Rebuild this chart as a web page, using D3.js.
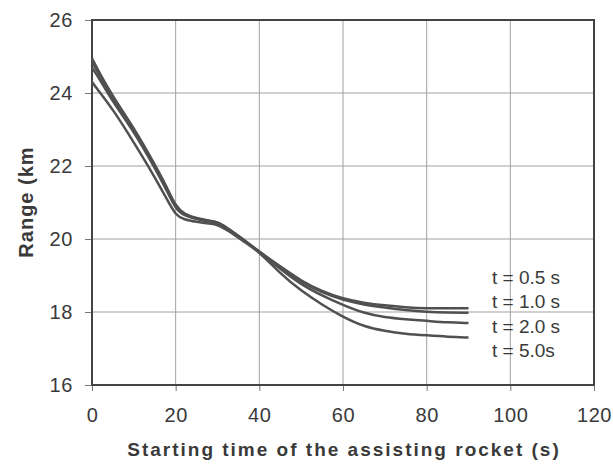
<!DOCTYPE html>
<html>
<head>
<meta charset="utf-8">
<script src="https://cdn.jsdelivr.net/npm/d3@7"></script>
<style>
  body { margin: 0; background: #fff; }
  text { font-family: Arial, "Liberation Sans", sans-serif; fill: #3a3a3a; }
</style>
</head>
<body>
<div id="chart"></div>
<script>
//chart data
var startTimes = [0, 2, 5, 10, 15, 18, 20, 22, 25, 28, 30, 33, 36, 40, 45, 50, 55, 60, 65, 70, 75, 80, 85, 90];
var range05 = [24.95, 24.5, 23.9, 23.05, 22.05, 21.4, 20.9, 20.68, 20.57, 20.5, 20.47, 20.25, 20.0, 19.65, 19.25, 18.85, 18.56, 18.36, 18.25, 18.18, 18.13, 18.1, 18.1, 18.1];
var range10 = [24.85, 24.45, 23.85, 23.0, 22.0, 21.35, 20.86, 20.66, 20.55, 20.47, 20.48, 20.25, 20.0, 19.65, 19.22, 18.82, 18.53, 18.33, 18.2, 18.12, 18.05, 18.0, 17.98, 17.98];
var range20 = [24.7, 24.35, 23.75, 22.95, 21.95, 21.3, 20.82, 20.64, 20.55, 20.5, 20.45, 20.22, 19.98, 19.65, 19.18, 18.75, 18.45, 18.19, 17.97, 17.85, 17.8, 17.76, 17.71, 17.7];
var range50 = [24.3, 24.0, 23.55, 22.65, 21.7, 21.07, 20.65, 20.53, 20.47, 20.42, 20.4, 20.2, 19.95, 19.65, 19.05, 18.58, 18.2, 17.86, 17.6, 17.48, 17.4, 17.36, 17.32, 17.3];
var seriesLabels = ["t = 0.5 s", "t = 1.0 s", "t = 2.0 s", "t = 5.0s"];
var xTicks = [0, 20, 40, 60, 80, 100, 120];
var yTicks = [16, 18, 20, 22, 24, 26];

var width = 613,
    height = 465;
var margin = {top: 20, right: 19, bottom: 80, left: 92};

var svg = d3.select("#chart").append("svg")
    .attr("width", width)
    .attr("height", height);

var x = d3.scaleLinear().domain([0, 120]).range([margin.left, width - margin.right]);
var y = d3.scaleLinear().domain([16, 26]).range([height - margin.bottom, margin.top]);

//grid lines
svg.append("g")
    .selectAll("line.vg")
    .data(xTicks.slice(1, -1))
    .enter().append("line")
      .attr("x1", function(d) { return x(d); })
      .attr("x2", function(d) { return x(d); })
      .attr("y1", y(26))
      .attr("y2", y(16))
      .attr("stroke", "#a0a0a0")
      .attr("stroke-width", 1);

svg.append("g")
    .selectAll("line.hg")
    .data(yTicks.slice(1, -1))
    .enter().append("line")
      .attr("x1", x(0))
      .attr("x2", x(120))
      .attr("y1", function(d) { return y(d); })
      .attr("y2", function(d) { return y(d); })
      .attr("stroke", "#a0a0a0")
      .attr("stroke-width", 1);

//axes
var xAxis = svg.append("g")
    .attr("transform", "translate(0," + y(16) + ")")
    .call(d3.axisBottom(x).tickValues(xTicks).tickSize(6).tickPadding(17));
var yAxis = svg.append("g")
    .attr("transform", "translate(" + x(0) + ",0)")
    .call(d3.axisLeft(y).tickValues(yTicks).tickSize(7).tickPadding(12));

[xAxis, yAxis].forEach(function(a) {
  a.select(".domain").remove();
  a.selectAll(".tick line").attr("stroke", "#777");
  a.selectAll(".tick text")
      .style("font-size", "20px")
      .style("letter-spacing", "0.6px")
      .style("font-family", "Arial, 'Liberation Sans', sans-serif")
      .attr("fill", "#444");
});

//plot border
svg.append("rect")
    .attr("x", x(0))
    .attr("y", y(26))
    .attr("width", x(120) - x(0))
    .attr("height", y(16) - y(26))
    .attr("fill", "none")
    .attr("stroke", "#444")
    .attr("stroke-width", 2);

//curves
var allSeries = [range05, range10, range20, range50];
var line = d3.line()
    .x(function(d, i) { return x(startTimes[i]); })
    .y(function(d) { return y(d); })
    .curve(d3.curveBasis);

svg.append("g")
    .selectAll("path")
    .data(allSeries)
    .enter().append("path")
      .attr("d", line)
      .attr("fill", "none")
      .attr("stroke", "#505050")
      .attr("stroke-width", 2.5);

//series labels
svg.append("g")
    .selectAll("text")
    .data(seriesLabels)
    .enter().append("text")
      .attr("x", 492)
      .attr("y", function(d, i) { return 277 + i * 24.5; })
      .attr("dy", "0.35em")
      .style("font-size", "19px")
      .text(function(d) { return d; });

//axis titles
svg.append("text")
    .attr("x", 344)
    .attr("y", 456)
    .attr("text-anchor", "middle")
    .style("font-size", "19px")
    .style("font-weight", "bold")
    .style("letter-spacing", "2px")
    .text("Starting time of the assisting rocket (s)");

svg.append("text")
    .attr("transform", "translate(33,202) rotate(-90)")
    .attr("text-anchor", "middle")
    .style("font-size", "20px")
    .style("font-weight", "bold")
    .style("letter-spacing", "1px")
    .text("Range (km");
</script>
</body>
</html>
